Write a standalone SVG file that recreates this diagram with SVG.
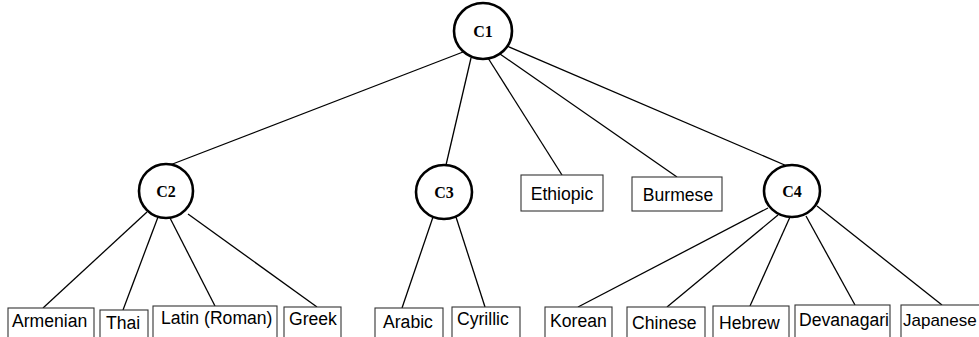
<svg xmlns="http://www.w3.org/2000/svg" width="979" height="337" viewBox="0 0 979 337">
<style>
.c{fill:#fff;stroke:#000;stroke-width:2.6}
.b{fill:#fff;stroke:#333;stroke-width:1.1}
.ct{font-family:"Liberation Serif","Times New Roman",serif;font-weight:bold;font-size:16px;fill:#000;text-anchor:middle}
.t{font-family:"Liberation Sans",Arial,sans-serif;font-size:17.6px;fill:#000}
.e{stroke:#000;stroke-width:1.3;fill:none}
</style>
<rect width="979" height="337" fill="#fff"/>
<g id="connectors">
<line class="e" x1="463" y1="52" x2="170" y2="165"/>
<line class="e" x1="471" y1="58" x2="446" y2="165"/>
<line class="e" x1="488" y1="58" x2="562" y2="175"/>
<line class="e" x1="500" y1="54" x2="677" y2="177"/>
<line class="e" x1="507" y1="46" x2="787" y2="166"/>
<line class="e" x1="147" y1="212" x2="43" y2="308"/>
<line class="e" x1="158" y1="217" x2="123" y2="310"/>
<line class="e" x1="170" y1="218" x2="215" y2="306"/>
<line class="e" x1="188" y1="214" x2="317" y2="307"/>
<line class="e" x1="433" y1="217" x2="402" y2="308"/>
<line class="e" x1="456" y1="217" x2="485" y2="307"/>
<line class="e" x1="768" y1="208" x2="578" y2="307"/>
<line class="e" x1="778" y1="215" x2="667" y2="307"/>
<line class="e" x1="790" y1="217" x2="750" y2="306"/>
<line class="e" x1="806" y1="216" x2="855" y2="305"/>
<line class="e" x1="817" y1="206" x2="942" y2="305"/>
</g>
<g id="C1"><ellipse class="c" cx="483" cy="31" rx="29" ry="28"/><text class="ct" x="483" y="37">C1</text></g>
<g id="C2"><ellipse class="c" cx="166" cy="191" rx="27" ry="27"/><text class="ct" x="166" y="197">C2</text></g>
<g id="C3"><ellipse class="c" cx="444" cy="192" rx="28" ry="27"/><text class="ct" x="444" y="198">C3</text></g>
<g id="C4"><ellipse class="c" cx="792" cy="191" rx="28" ry="26"/><text class="ct" x="792" y="197">C4</text></g>
<g id="Ethiopic"><rect class="b" x="521" y="175" width="82" height="36"/><text class="t" x="562" y="200" text-anchor="middle">Ethiopic</text></g>
<g id="Burmese"><rect class="b" x="632" y="177" width="90" height="34"/><text class="t" x="678" y="201" text-anchor="middle">Burmese</text></g>
<g id="Armenian"><rect class="b" x="8" y="308" width="86" height="31"/><text class="t" x="12" y="327">Armenian</text></g>
<g id="Thai"><rect class="b" x="100" y="310" width="48" height="29"/><text class="t" x="106" y="329">Thai</text></g>
<g id="Latin"><rect class="b" x="153" y="306" width="124" height="33"/><text class="t" x="161" y="324">Latin (Roman)</text></g>
<g id="Greek"><rect class="b" x="284" y="307" width="57" height="32"/><text class="t" x="289" y="325">Greek</text></g>
<g id="Arabic"><rect class="b" x="375" y="308" width="68" height="31"/><text class="t" x="383" y="328">Arabic</text></g>
<g id="Cyrillic"><rect class="b" x="452" y="307" width="68" height="32"/><text class="t" x="457" y="325">Cyrillic</text></g>
<g id="Korean"><rect class="b" x="545" y="307" width="67" height="32"/><text class="t" x="550" y="327">Korean</text></g>
<g id="Chinese"><rect class="b" x="627" y="307" width="78" height="32"/><text class="t" x="632" y="329">Chinese</text></g>
<g id="Hebrew"><rect class="b" x="713" y="306" width="76" height="33"/><text class="t" x="719" y="329">Hebrew</text></g>
<g id="Devanagari"><rect class="b" x="795" y="305" width="95" height="34"/><text class="t" x="799" y="326">Devanagari</text></g>
<g id="Japanese"><rect class="b" x="901" y="305" width="85" height="34"/><text class="t" x="903" y="326" style="font-size:17px">Japanese</text></g>
</svg>
